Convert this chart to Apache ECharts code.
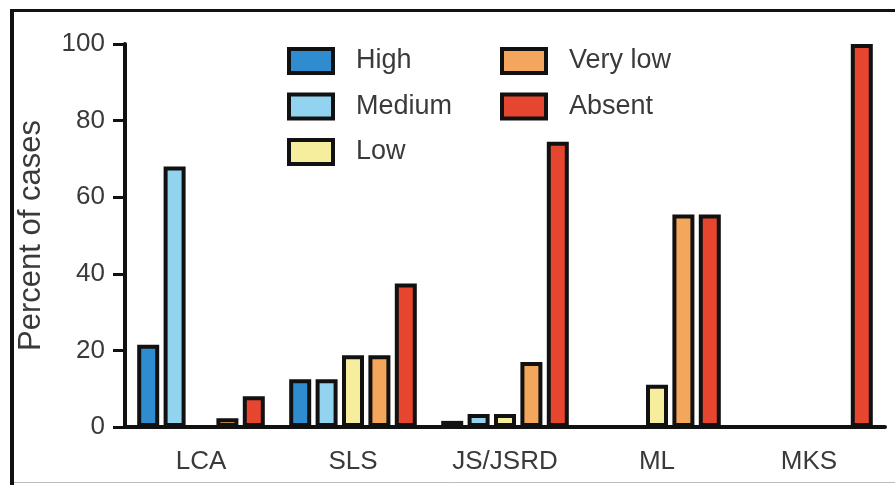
<!DOCTYPE html>
<html>
<head>
<meta charset="utf-8">
<script src="https://cdn.jsdelivr.net/npm/echarts@6/dist/echarts.min.js"></script>
<style>
html,body{margin:0;padding:0;background:#fff;}
#chart{width:895px;height:485px;}
</style>
</head>
<body>
<div id="chart"></div>
<script>
var categories = ['LCA', 'SLS', 'JS/JSRD', 'ML', 'MKS'];
var seriesNames = ['High', 'Medium', 'Low', 'Very low', 'Absent'];
var high    = [21.5, 12.5, 1.6, 0, 0];
var medium  = [68, 12.5, 3.4, 0, 0];
var low     = [0, 18.75, 3.4, 11, 0];
var veryLow = [2.3, 18.75, 17, 55.5, 0];
var absent  = [8, 37.5, 74.5, 55.5, 100];
var yTicks  = [0, 20, 40, 60, 80, 100];

var colors = ['#2f8ccf', '#92d4ef', '#f6ee9c', '#f3a65c', '#e64530'];
var FONT = '"Liberation Sans", Arial, Helvetica, sans-serif';
var TXT = '#3a3a3a';

var values = [high, medium, low, veryLow, absent];
var series = seriesNames.map(function (name, i) {
  return {
    name: name,
    type: 'bar',
    data: values[i],
    barWidth: 22,
    barGap: '20%',
    itemStyle: { color: colors[i], borderColor: '#111', borderWidth: 4 }
  };
});

function legendCfg(data, left) {
  return {
    data: data,
    orient: 'vertical',
    left: left,
    top: 47,
    padding: 0,
    itemWidth: 44,
    itemHeight: 24,
    itemGap: 17.5,
    icon: 'rect',
    itemStyle: { borderColor: '#111', borderWidth: 4 },
    textStyle: { fontFamily: FONT, fontSize: 27, color: TXT, lineHeight: 28, padding: [0, 0, 0, 18] }
  };
}

var chart = echarts.init(document.getElementById('chart'), null, { renderer: 'canvas' });
chart.setOption({
  animation: false,
  backgroundColor: '#fff',
  grid: { left: 125, right: 10, top: 44, bottom: 58 },
  legend: [legendCfg(seriesNames.slice(0, 3), 287), legendCfg(seriesNames.slice(3), 500)],
  xAxis: {
    type: 'category',
    data: categories,
    axisLine: { lineStyle: { color: '#111', width: 4 } },
    axisTick: { alignWithLabel: true, length: 12, lineStyle: { color: '#111', width: 3 } },
    axisLabel: { fontFamily: FONT, fontSize: 26, color: TXT, margin: 22 }
  },
  yAxis: {
    type: 'value',
    min: yTicks[0],
    max: yTicks[yTicks.length - 1],
    interval: 20,
    name: 'Percent of cases',
    nameLocation: 'middle',
    nameGap: 78,
    nameTextStyle: { fontFamily: FONT, fontSize: 31, color: TXT },
    axisLine: { show: true, lineStyle: { color: '#111', width: 4 } },
    axisTick: { show: true, length: 12, lineStyle: { color: '#111', width: 3 } },
    axisLabel: { fontFamily: FONT, fontSize: 26, color: TXT, margin: 20 },
    splitLine: { show: false }
  },
  graphic: [
    { type: 'line', shape: { x1: 12, y1: 9, x2: 12, y2: 485 }, style: { stroke: '#111', lineWidth: 4 } },
    { type: 'line', shape: { x1: 10, y1: 10.5, x2: 895, y2: 10.5 }, style: { stroke: '#111', lineWidth: 3 } },
    { type: 'line', shape: { x1: 14, y1: 482.5, x2: 895, y2: 482.5 }, style: { stroke: '#bbb', lineWidth: 1 } }
  ],
  series: series
});
</script>
</body>
</html>
